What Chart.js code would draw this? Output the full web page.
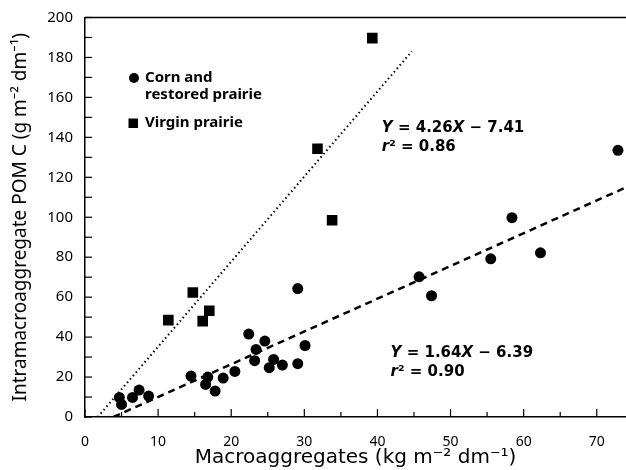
<!DOCTYPE html>
<html>
<head>
<meta charset="utf-8">
<script src="https://cdn.jsdelivr.net/npm/chart.js@4.4.0/dist/chart.umd.min.js"></script>
<style>
  html, body { margin: 0; padding: 0; background: #fff; }
  #wrap { width: 626px; height: 470px; position: relative; }
</style>
</head>
<body>
<div id="wrap"><canvas id="chart"></canvas></div>
<script>
// Corn and restored prairie
var cornX = [4.7, 5.0, 6.5, 7.4, 8.7, 14.5, 16.5, 16.8, 17.8, 18.9, 20.5, 22.4, 23.2, 23.4,
             24.6, 25.2, 25.8, 27.0, 29.1, 29.1, 30.1, 45.7, 47.4, 55.5, 58.4, 62.3, 72.9];
var cornY = [9.8, 6.3, 9.8, 13.5, 10.5, 20.5, 16.3, 20.0, 13.0, 19.5, 22.8, 41.5, 28.2, 33.8,
             38.0, 24.7, 28.8, 26.0, 26.7, 64.3, 35.8, 70.2, 60.7, 79.2, 99.8, 82.2, 133.5];
// Virgin prairie
var virginX = [11.4, 14.75, 16.1, 17.0, 31.8, 33.8, 39.3];
var virginY = [48.5, 62.3, 48.0, 53.2, 134.3, 98.5, 189.7];

// regression fits (corn, virgin)
var fitSlope = [1.64, 4.26];
var fitIntercept = [-6.39, -7.41];
var fitR2 = [0.90, 0.86];
var fitXEnd = [74, 44.7];

var xTickLabels = [0, 10, 20, 30, 40, 50, 60, 70];
var yTickLabels = [0, 20, 40, 60, 80, 100, 120, 140, 160, 180, 200];

var FONT = "'Noto Sans', 'DejaVu Sans', sans-serif";
var WIDE = "'DejaVu Sans', sans-serif";

function toPoints(xs, ys) {
  return xs.map(function (x, i) { return { x: x, y: ys[i] }; });
}

// line from where the fit crosses y = 0 up to the end x
function fitLine(i) {
  var x0 = -fitIntercept[i] / fitSlope[i];
  var x1 = fitXEnd[i];
  return [
    { x: x0, y: 0 },
    { x: x1, y: fitSlope[i] * x1 + fitIntercept[i] }
  ];
}

// draws "Y = a X − b" and "r² = c" with italic letters
function drawEquation(ctx, i, left, top) {
  var parts = [
    ['i', 'Y'], ['n', ' = ' + fitSlope[i].toFixed(2)], ['i', 'X'],
    ['n', ' \u2212 ' + Math.abs(fitIntercept[i]).toFixed(2)]
  ];
  var x = left;
  parts.forEach(function (p) {
    ctx.font = (p[0] == 'i' ? 'italic ' : '') + 'bold 15px ' + WIDE;
    ctx.fillText(p[1], x, top);
    x += ctx.measureText(p[1]).width;
  });
  x = left;
  [['i', 'r'], ['n', '\u00b2 = ' + fitR2[i].toFixed(2)]].forEach(function (p) {
    ctx.font = (p[0] == 'i' ? 'italic ' : '') + 'bold 15px ' + WIDE;
    ctx.fillText(p[1], x, top + 19);
    x += ctx.measureText(p[1]).width;
  });
}

var extras = {
  id: 'extras',
  afterDraw: function (chart) {
    var ctx = chart.ctx, a = chart.chartArea;
    var xs = chart.scales.x, ys = chart.scales.y;
    ctx.save();
    ctx.strokeStyle = '#000';
    ctx.fillStyle = '#000';

    // top frame line
    ctx.lineWidth = 1.5;
    ctx.beginPath();
    ctx.moveTo(a.left, a.top);
    ctx.lineTo(a.right, a.top);
    ctx.stroke();

    // inward ticks
    ctx.lineWidth = 1.2;
    xs.ticks.forEach(function (t) {
      if (t.value % 5 != 0) return;
      var px = xs.getPixelForValue(t.value);
      var len = t.value % 10 == 0 ? 8 : 5;
      ctx.beginPath();
      ctx.moveTo(px, a.bottom);
      ctx.lineTo(px, a.bottom - len);
      ctx.stroke();
    });
    ys.ticks.forEach(function (t) {
      var py = ys.getPixelForValue(t.value);
      ctx.beginPath();
      ctx.moveTo(a.left, py);
      ctx.lineTo(a.left + 7, py);
      ctx.stroke();
    });

    // legend
    ctx.font = 'bold 15px ' + FONT;
    ctx.textBaseline = 'middle';
    ctx.beginPath();
    ctx.arc(134, 78, 5, 0, Math.PI * 2);
    ctx.fill();
    ctx.fillText('Corn and', 145, 78);
    ctx.fillText('restored prairie', 145, 95);
    ctx.fillRect(128.5, 118.5, 9.5, 9.5);
    ctx.fillText('Virgin prairie', 145, 123);

    // regression equations
    drawEquation(ctx, 1, xs.getPixelForValue(40.6), ys.getPixelForValue(144.5));
    drawEquation(ctx, 0, xs.getPixelForValue(41.8), ys.getPixelForValue(32));
    ctx.restore();
  }
};

new Chart(document.getElementById('chart'), {
  type: 'scatter',
  data: {
    datasets: [
      {
        label: 'Corn and restored prairie',
        data: toPoints(cornX, cornY),
        pointStyle: 'circle',
        pointRadius: 5.5,
        backgroundColor: '#000',
        borderColor: '#000',
        borderWidth: 0
      },
      {
        label: 'Virgin prairie',
        data: toPoints(virginX, virginY),
        pointStyle: 'rect',
        pointRadius: 7.5,
        backgroundColor: '#000',
        borderColor: '#000',
        borderWidth: 0
      },
      {
        label: 'fit corn',
        data: fitLine(0),
        showLine: true,
        pointRadius: 0,
        borderColor: '#000',
        borderWidth: 2.5,
        borderDash: [7, 5]
      },
      {
        label: 'fit virgin',
        data: fitLine(1),
        showLine: true,
        pointRadius: 0,
        borderColor: '#000',
        borderWidth: 2,
        borderDash: [1.5, 3]
      }
    ]
  },
  options: {
    responsive: true,
    maintainAspectRatio: false,
    animation: false,
    layout: { autoPadding: false, padding: { top: 17.5, right: 0, left: 0, bottom: 0 } },
    plugins: { legend: { display: false }, tooltip: { enabled: false } },
    scales: {
      x: {
        type: 'linear',
        min: 0,
        max: 74,
        afterFit: function (s) {
          s.height = 53;
          s.paddingLeft = 0;
          s.paddingRight = 0;
        },
        border: { display: true, color: '#000', width: 1.5 },
        grid: { display: false, drawTicks: false },
        ticks: {
          stepSize: 5,
          autoSkip: false,
          maxRotation: 0,
          padding: 17,
          color: '#000',
          font: { family: FONT, size: 14 },
          callback: function (v) { return xTickLabels.indexOf(v) >= 0 ? v : ''; }
        },
        title: {
          display: true,
          text: 'Macroaggregates (kg m\u207b\u00b2 dm\u207b\u00b9)',
          color: '#000',
          font: { family: WIDE, size: 20 },
          padding: { top: 0, bottom: 0 }
        }
      },
      y: {
        min: 0,
        max: 200,
        afterFit: function (s) {
          s.width = 85;
          s.paddingTop = 0;
          s.paddingBottom = 0;
        },
        border: { display: true, color: '#000', width: 1.5 },
        grid: { display: false, drawTicks: false },
        ticks: {
          stepSize: 10,
          autoSkip: false,
          padding: 12,
          color: '#000',
          font: { family: FONT, size: 15 },
          callback: function (v) { return yTickLabels.indexOf(v) >= 0 ? v : ''; }
        },
        title: {
          display: true,
          text: 'Intramacroaggregate POM C (g m\u207b\u00b2 dm\u207b\u00b9)',
          color: '#000',
          font: { family: FONT, size: 19 },
          padding: { top: 9, bottom: 0 }
        }
      }
    }
  },
  plugins: [extras]
});
</script>
</body>
</html>
